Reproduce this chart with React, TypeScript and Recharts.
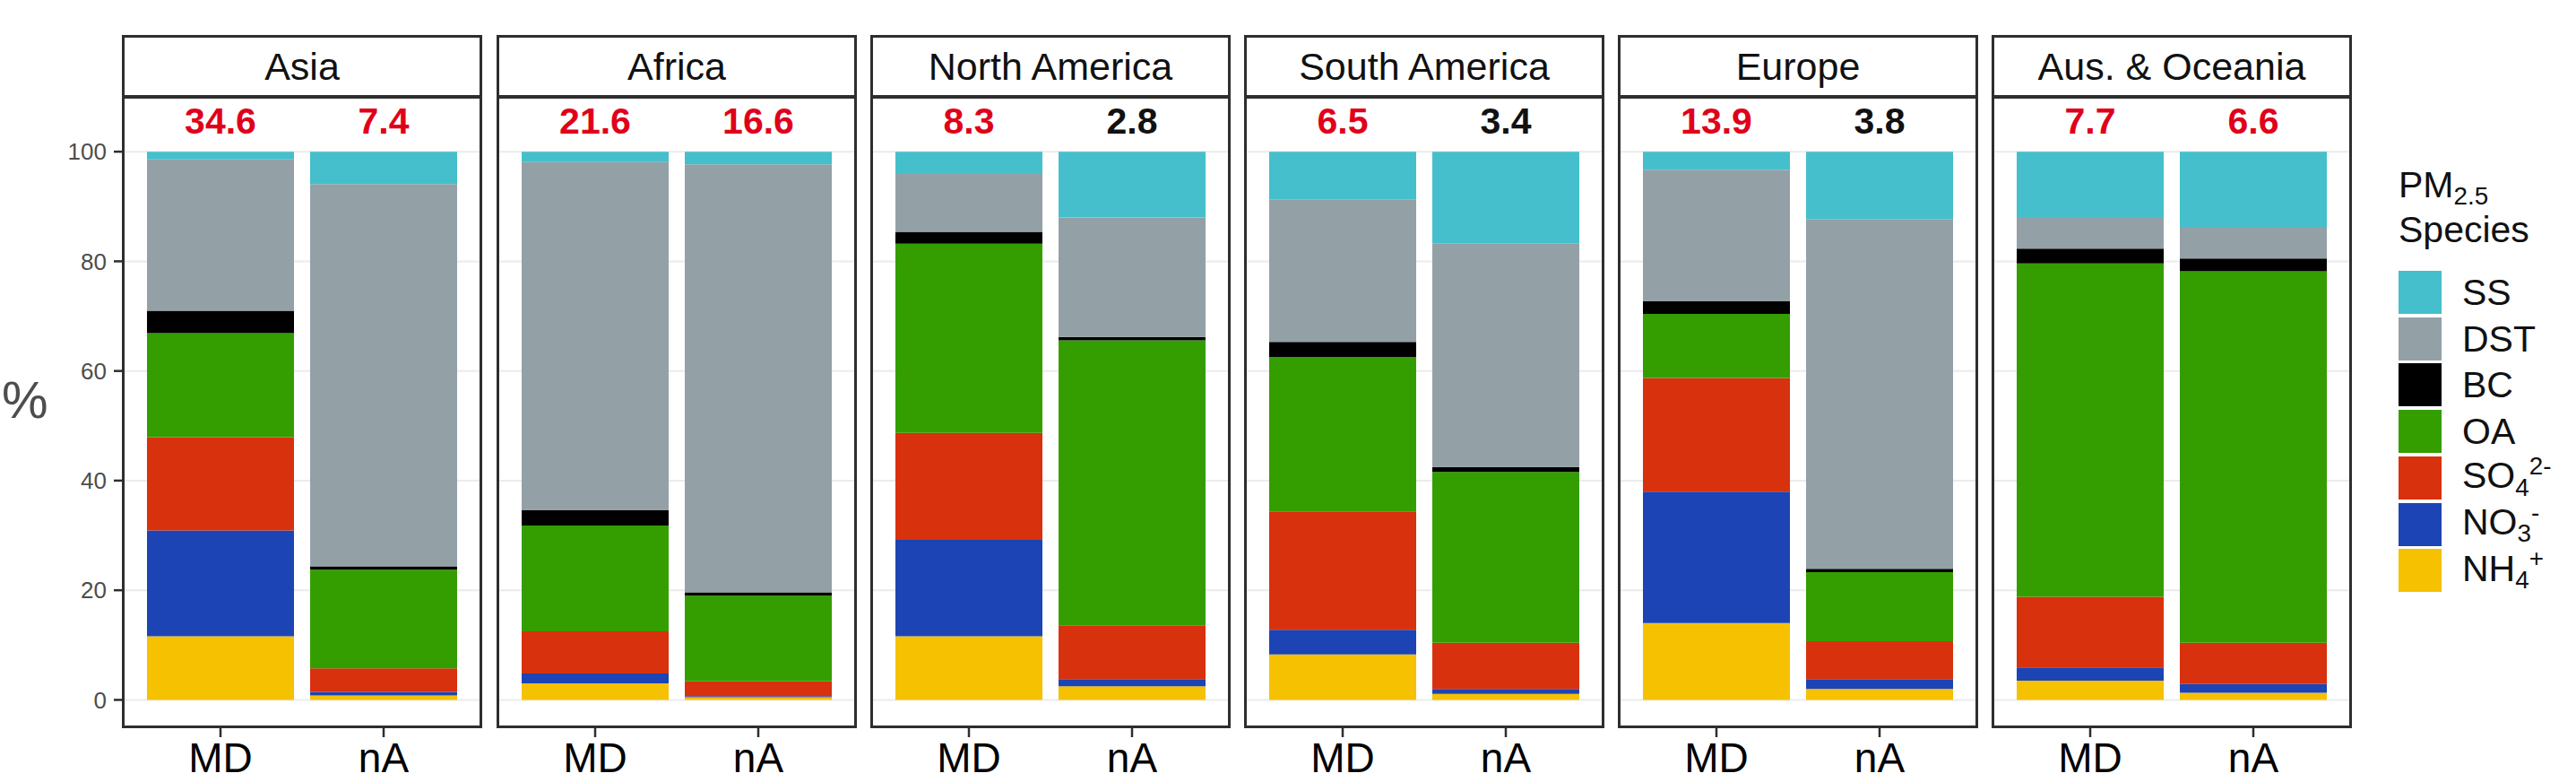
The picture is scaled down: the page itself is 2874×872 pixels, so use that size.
import React from 'react';
import { BarChart, Bar, XAxis, YAxis, CartesianGrid, LabelList } from 'recharts';

// Facets and x categories
const regions = ['Asia', 'Africa', 'North America', 'South America', 'Europe', 'Aus. & Oceania'];
const types = ['MD', 'nA'];

// Percent contributions, order: [Asia MD, Asia nA, Africa MD, Africa nA, N.Am MD, N.Am nA,
//  S.Am MD, S.Am nA, Europe MD, Europe nA, Aus MD, Aus nA]
const NH4 = [11.6, 0.8, 3.0, 0.5, 11.6, 2.5, 8.3, 1.1, 14.0, 2.0, 3.5, 1.3];
const NO3 = [19.3, 0.65, 1.8, 0.2, 17.6, 1.3, 4.5, 0.9, 24.0, 1.8, 2.4, 1.6];
const SO4 = [17.0, 4.3, 7.7, 2.7, 19.5, 9.8, 21.6, 8.4, 20.7, 6.9, 12.9, 7.5];
const OA = [19.0, 18.0, 19.3, 15.6, 34.5, 52.0, 28.1, 31.2, 11.7, 12.6, 60.8, 67.8];
const BC = [4.1, 0.6, 2.8, 0.6, 2.2, 0.6, 2.8, 0.9, 2.3, 0.6, 2.7, 2.3];
const DST = [27.6, 69.75, 63.5, 78.1, 10.7, 21.8, 26.0, 40.7, 24.0, 63.8, 5.8, 5.8];
const SS = [1.4, 5.9, 1.9, 2.3, 3.9, 12.0, 8.7, 16.8, 3.3, 12.3, 11.9, 13.7];

// Total concentrations shown above the bars
const totals = [34.6, 7.4, 21.6, 16.6, 8.3, 2.8, 6.5, 3.4, 13.9, 3.8, 7.7, 6.6];
const totalHighlighted = [true, true, true, true, true, false, true, false, true, false, true, true];

const yTicks = [0, 20, 40, 60, 80, 100];

const FONT = '"Liberation Sans", Arial, Helvetica, sans-serif';
const RED = '#E0001A';
const BORDER = '#2e2e2e';

const speciesKeys = ['NH4', 'NO3', 'SO4', 'OA', 'BC', 'DST', 'SS'];
const speciesValues: Record<string, number[]> = { NH4, NO3, SO4, OA, BC, DST, SS };
const speciesColors: Record<string, string> = {
  SS: '#45BFCC',
  DST: '#93A1A7',
  BC: '#000000',
  OA: '#349E00',
  SO4: '#D8310D',
  NO3: '#1C44B4',
  NH4: '#F5C100',
};

const sub = (t: string) => (
  <span style={{ fontSize: '0.68em', position: 'relative', top: '0.3em' }}>{t}</span>
);
const sup = (t: string) => (
  <span style={{ fontSize: '0.68em', position: 'relative', top: '-0.55em' }}>{t}</span>
);

const legendItems: { key: string; label: React.ReactNode }[] = [
  { key: 'SS', label: <>SS</> },
  { key: 'DST', label: <>DST</> },
  { key: 'BC', label: <>BC</> },
  { key: 'OA', label: <>OA</> },
  { key: 'SO4', label: <>SO{sub('4')}{sup('2-')}</> },
  { key: 'NO3', label: <>NO{sub('3')}{sup('-')}</> },
  { key: 'NH4', label: <>NH{sub('4')}{sup('+')}</> },
];

const panelLefts = [137, 555, 972, 1389, 1806, 2223];
const PANEL_W = 400;
const PANEL_TOP = 108;
const PANEL_BOTTOM = 811;
const STRIP_TOP = 40;

function Panel({ idx }: { idx: number }) {
  const left = panelLefts[idx];
  const data = types.map((t, j) => {
    const k = idx * 2 + j;
    const row: Record<string, any> = { type: t, total: totals[k] };
    speciesKeys.forEach((s) => {
      row[s] = speciesValues[s][k];
    });
    return row;
  });
  const isFirst = idx === 0;
  const yW = isFirst ? 80 : 0;

  const renderTotal = (p: any) => {
    const vb = p.viewBox || {};
    const x = (vb.x ?? p.x) + (vb.width ?? p.width) / 2;
    const y = vb.y ?? p.y;
    const k = idx * 2 + (p.index ?? 0);
    return (
      <text
        x={x}
        y={y - 20}
        textAnchor="middle"
        fontSize={41}
        fontWeight="bold"
        fontFamily={FONT}
        fill={totalHighlighted[k] ? RED : '#111111'}
      >
        {Number(p.value).toFixed(1)}
      </text>
    );
  };

  return (
    <>
      <div style={{ position: 'absolute', left: left - yW, top: PANEL_TOP }}>
        <BarChart
          width={PANEL_W + yW}
          height={872 - PANEL_TOP}
          data={data}
          margin={{ top: 0, right: 0, bottom: 0, left: 0 }}
          barSize={164}
        >
          <CartesianGrid vertical={false} stroke="#ebebeb" strokeWidth={2} />
          <XAxis
            dataKey="type"
            type="category"
            padding={{ left: 18, right: 18 }}
            height={872 - PANEL_BOTTOM}
            axisLine={false}
            tickLine={{ stroke: BORDER, strokeWidth: 2.5 }}
            tickSize={11}
            tickMargin={6}
            interval={0}
            tick={{ fill: '#000', fontSize: 46, fontFamily: FONT }}
          />
          <YAxis
            type="number"
            domain={[-5, 110]}
            ticks={yTicks}
            allowDataOverflow
            hide={!isFirst}
            width={yW}
            axisLine={false}
            tickSize={10}
            tickMargin={8}
            tickLine={{ stroke: BORDER, strokeWidth: 2.5 }}
            tick={{ fill: '#4d4d4d', fontSize: 26, fontFamily: FONT }}
          />
          {speciesKeys.map((s, si) => (
            <Bar
              key={s}
              dataKey={s}
              stackId="a"
              fill={speciesColors[s]}
              isAnimationActive={false}
            >
              {si === speciesKeys.length - 1 ? (
                <LabelList dataKey="total" content={renderTotal} />
              ) : null}
            </Bar>
          ))}
        </BarChart>
      </div>
      {/* panel border */}
      <div
        style={{
          position: 'absolute',
          left: left - 1,
          top: PANEL_TOP - 1,
          width: PANEL_W + 2,
          height: PANEL_BOTTOM - PANEL_TOP + 2,
          border: `3px solid ${BORDER}`,
          boxSizing: 'border-box',
          pointerEvents: 'none',
        }}
      />
      {/* strip */}
      <div
        style={{
          position: 'absolute',
          left: left - 1,
          top: STRIP_TOP - 1,
          width: PANEL_W + 2,
          height: PANEL_TOP - STRIP_TOP + 2,
          border: `3px solid ${BORDER}`,
          boxSizing: 'border-box',
          background: '#fff',
          display: 'flex',
          alignItems: 'center',
          justifyContent: 'center',
          fontSize: 43,
          color: '#111',
          fontFamily: FONT,
          whiteSpace: 'nowrap',
        }}
      >
        {regions[idx]}
      </div>
    </>
  );
}

export default function App() {
  return (
    <div
      style={{
        position: 'absolute',
        left: 0,
        top: 0,
        width: 2874,
        height: 872,
        background: '#fff',
        overflow: 'hidden',
        fontFamily: FONT,
      }}
    >
      <div
        style={{
          position: 'absolute',
          left: 2,
          top: 446 - 34,
          fontSize: 58,
          lineHeight: '68px',
          color: '#4d4d4d',
        }}
      >
        %
      </div>
      {regions.map((r, i) => (
        <Panel key={r} idx={i} />
      ))}
      {/* legend */}
      <div style={{ position: 'absolute', left: 2676, top: 186, fontSize: 41, lineHeight: '41px', color: '#111' }}>
        PM{sub('2.5')}
      </div>
      <div style={{ position: 'absolute', left: 2676, top: 236, fontSize: 41, lineHeight: '41px', color: '#111' }}>
        Species
      </div>
      {legendItems.map((it, i) => (
        <div
          key={it.key}
          style={{
            position: 'absolute',
            left: 2676,
            top: 302 + i * 51.7,
            height: 48,
            display: 'flex',
            alignItems: 'center',
          }}
        >
          <div style={{ width: 48, height: 48, background: speciesColors[it.key] }} />
          <div style={{ marginLeft: 23, fontSize: 41, lineHeight: '48px', color: '#111', whiteSpace: 'nowrap' }}>
            {it.label}
          </div>
        </div>
      ))}
    </div>
  );
}
